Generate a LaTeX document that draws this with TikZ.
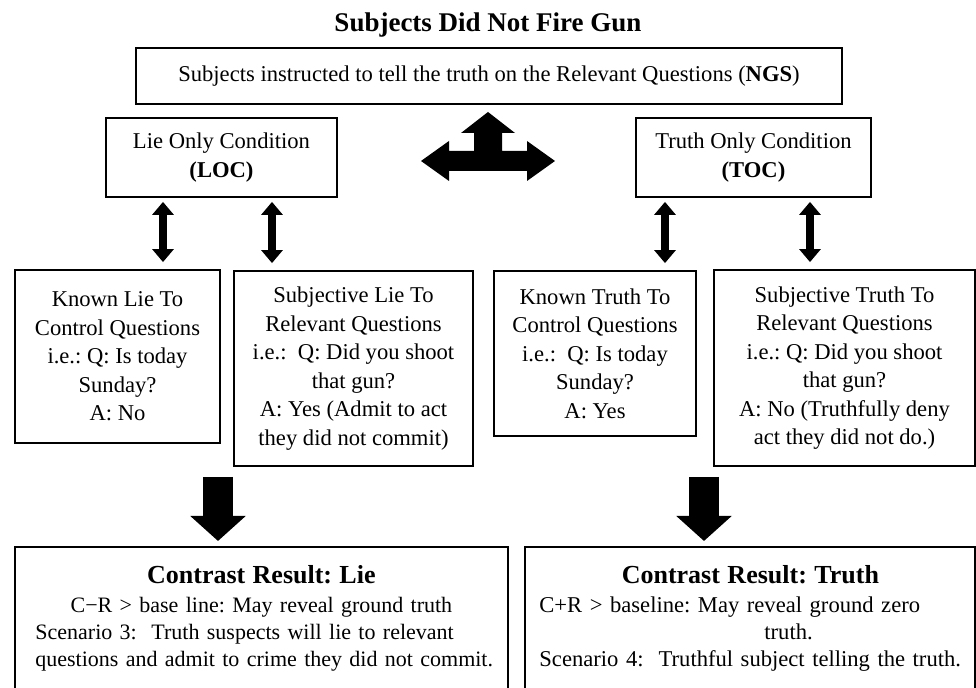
\documentclass[tikz,border=0pt]{standalone}
\usepackage{fontspec}
\setmainfont{Liberation Serif}
\usetikzlibrary{arrows.meta,calc}
\frenchspacing
\begin{document}
\begin{tikzpicture}[x=0.5pt,y=-0.5pt,
  box/.style={draw, line width=0.9pt, inner sep=0pt, align=center,
    font=\fontsize{11.3}{14.25}\selectfont},
  frame/.style={draw, line width=0.9pt, inner sep=0pt, anchor=north},
  restext/.style={inner sep=0pt, align=left, anchor=north west,
    font=\fontsize{11.3}{13.5}\selectfont},
  dblarrow/.style={line width=4pt,
    {Triangle[width=10.5pt,length=6.5pt]}-{Triangle[width=10.5pt,length=6.5pt]},
    shorten <=2pt, shorten >=3.5pt},
  fatarrow/.style={line width=15pt, -{Triangle[width=27pt,length=12.5pt]},
    shorten <=5pt, shorten >=2.5pt},
]
\clip (0,0) rectangle (976,688);
\fill[white] (0,0) rectangle (976,688);

% heading
\node[anchor=base, font=\fontsize{13.5}{16}\selectfont\bfseries] (title) at (488,32)
  {Subjects Did Not Fire Gun};

% instruction and the two conditions
\node[box, minimum width=353pt, minimum height=28pt] (ngs) at (489,76)
  {Subjects instructed to tell the truth on the Relevant Questions (\textbf{NGS})};
\node[box, minimum width=115.5pt, minimum height=39.5pt] (loc) at (221.5,157.5)
  {Lie Only Condition\\\textbf{(LOC)}};
\node[box, minimum width=117.5pt, minimum height=39.5pt] (toc) at (753.5,157.5)
  {Truth Only Condition\\\textbf{(TOC)}};

% three-way arrow between the conditions
\fill (488,112) -- (515,133) -- (502,133) -- (502,151) -- (527,151) -- (527,141)
  -- (555,161) -- (527,181) -- (527,171) -- (449,171) -- (449,181) -- (421,161)
  -- (449,141) -- (449,151) -- (474,151) -- (474,133) -- (461,133) -- cycle;

% question boxes
\node[box, minimum width=102.5pt, minimum height=86.5pt] (kl) at (117.5,356.5)
  {Known Lie To\\Control Questions\\i.e.: Q: Is today\\Sunday?\\A: No};
\node[box, minimum width=119.5pt, minimum height=97.5pt] (sl) at (353.5,368.5)
  {Subjective Lie To\\Relevant Questions\\i.e.:\ \ Q: Did you shoot\\that gun?\\A: Yes (Admit to act\\they did not commit)};
\node[box, minimum width=101pt, minimum height=82.5pt] (kt) at (595,353.5)
  {Known Truth To\\Control Questions\\i.e.:\ \ Q: Is today\\Sunday?\\A: Yes};
\node[box, minimum width=130.5pt, minimum height=98pt] (st) at (844.5,368)
  {Subjective Truth To\\Relevant Questions\\i.e.: Q: Did you shoot\\that gun?\\A: No (Truthfully deny\\act they did not do.)};

% connectors between conditions and question boxes
\coordinate (a1) at (163,0);
\coordinate (a2) at (272,0);
\coordinate (a3) at (665,0);
\coordinate (a4) at (810,0);
\draw[dblarrow] (loc.south -| a1) -- (kl.north -| a1);
\draw[dblarrow] (loc.south -| a2) -- (sl.north -| a2);
\draw[dblarrow] (toc.south -| a3) -- (kt.north -| a3);
\draw[dblarrow] (toc.south -| a4) -- (st.north -| a4);

% result boxes (open at the bottom edge)
\node[frame, minimum width=246.5pt, minimum height=100pt] (lie) at (261.5,546) {};
\node[frame, minimum width=225pt, minimum height=100pt] (truth) at (750,546) {};

\node[restext, text width=245pt, font=\fontsize{11}{13.5}\selectfont] (lietext) at (35,565)
  {\makebox[226pt]{\fontsize{13}{15}\selectfont\bfseries Contrast Result: Lie}\\[1pt]
   \makebox[226pt]{C−R > base line: May reveal ground truth}\\
   Scenario 3:\ \ Truth suspects will lie to relevant\\
   questions and admit to crime they did not commit.};
\node[restext, text width=245pt] (truthtext) at (539,565)
  {\makebox[211pt]{\fontsize{13}{15}\selectfont\bfseries Contrast Result: Truth}\\[1pt]
   C+R > baseline: May reveal ground zero\\
   \hspace*{112.5pt}truth.\\
   Scenario 4:\ \ Truthful subject telling the truth.};

% arrows into the results
\coordinate (b1) at (218,0);
\coordinate (b2) at (704,0);
\draw[fatarrow] (sl.south -| b1) -- (lie.north -| b1);
\draw[fatarrow] (st.south -| b2) -- (truth.north -| b2);
\end{tikzpicture}
\end{document}
